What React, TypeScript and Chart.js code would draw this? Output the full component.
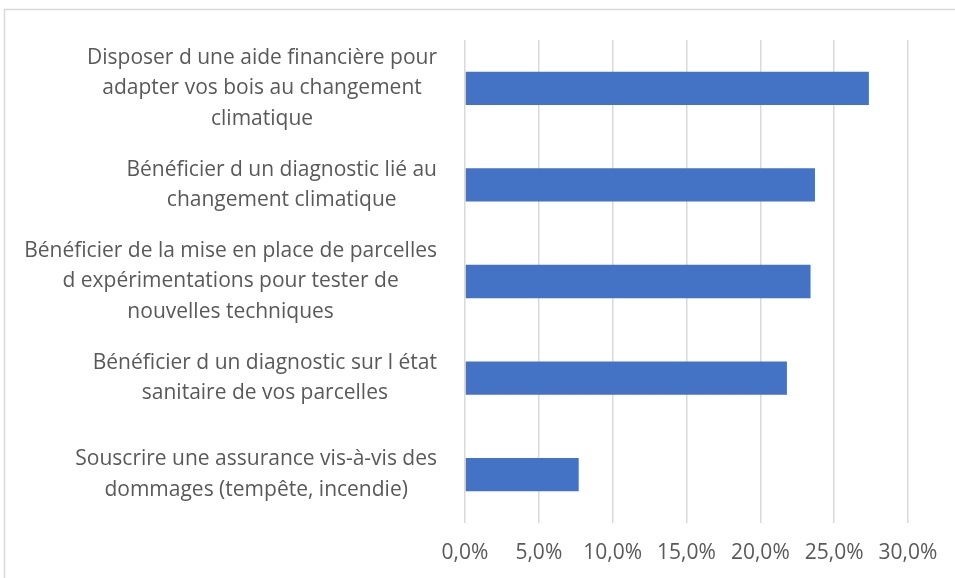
import React, { useEffect, useRef } from 'react';
import { Chart, registerables } from 'chart.js';

Chart.register(...registerables);

const categories: string[][] = [
  ['Disposer d une aide financière pour', 'adapter vos bois au changement', 'climatique'],
  ['Bénéficier d un diagnostic lié au', 'changement climatique'],
  ['Bénéficier de la mise en place de parcelles', 'd expérimentations pour tester de', 'nouvelles techniques'],
  ['Bénéficier d un diagnostic sur l état', 'sanitaire de vos parcelles'],
  ['Souscrire une assurance vis-à-vis des', 'dommages (tempête, incendie)'],
];
const values: number[] = [27.35, 23.7, 23.4, 21.8, 7.7];
const xMin = 0;
const xMax = 30;
const xStep = 5;

const FONT_FAMILY = '"Open Sans", sans-serif';
const FONT_SIZE = 21;
const TICK_FONT_SIZE = 21;
const TEXT_COLOR = '#595959';
const GRID_COLOR = '#d9d9d9';
const BAR_COLOR = '#4472C4';

const frameAndLabels = {
  id: 'frameAndLabels',
  beforeDraw(chart: any) {
    const ctx = chart.ctx;
    ctx.save();
    ctx.fillStyle = '#ffffff';
    ctx.fillRect(0, 0, chart.width, chart.height);
    ctx.strokeStyle = GRID_COLOR;
    ctx.lineWidth = 1.5;
    ctx.beginPath();
    ctx.moveTo(4.5, chart.height + 2);
    ctx.lineTo(4.5, 9.5);
    ctx.lineTo(chart.width + 2, 9.5);
    ctx.stroke();
    ctx.restore();
  },
  afterDraw(chart: any) {
    const ctx = chart.ctx;
    const yScale = chart.scales.y;
    const rightEdge = chart.chartArea.left - 28;
    const lineHeight = 30.5;
    ctx.save();
    ctx.font = `${FONT_SIZE}px ${FONT_FAMILY}`;
    ctx.fillStyle = TEXT_COLOR;
    ctx.textAlign = 'center';
    ctx.textBaseline = 'middle';
    categories.forEach((lines, i) => {
      const yc = yScale.getPixelForValue(i);
      const maxW = Math.max(...lines.map((l) => ctx.measureText(l).width));
      const cx = rightEdge - maxW / 2;
      lines.forEach((line, j) => {
        const y = yc + (j - (lines.length - 1) / 2) * lineHeight;
        ctx.fillText(line, cx, y);
      });
    });
    ctx.restore();
  },
};

export default function App() {
  const canvasRef = useRef<HTMLCanvasElement | null>(null);

  useEffect(() => {
    if (!canvasRef.current) return;
    const chart = new Chart(canvasRef.current, {
      type: 'bar',
      data: {
        labels: categories.map((c) => c.join(' ')),
        datasets: [
          {
            data: values,
            backgroundColor: BAR_COLOR,
            borderWidth: 0,
            categoryPercentage: 1,
            barPercentage: 0.345,
          },
        ],
      },
      options: {
        indexAxis: 'y',
        animation: false,
        responsive: true,
        maintainAspectRatio: false,
        layout: { padding: { top: 40, right: 47, bottom: 0, left: 0 } },
        plugins: {
          legend: { display: false },
          tooltip: { enabled: false },
          title: { display: false },
        },
        scales: {
          x: {
            min: xMin,
            max: xMax,
            grid: { color: GRID_COLOR, lineWidth: 1.5, drawTicks: false },
            border: { display: false },
            ticks: {
              stepSize: xStep,
              padding: 17,
              color: TEXT_COLOR,
              font: { family: FONT_FAMILY, size: TICK_FONT_SIZE },
              callback: (v: any) => Number(v).toFixed(1).replace('.', ',') + '%',
            },
            afterFit: (scale: any) => {
              scale.height = 55;
            },
          },
          y: {
            grid: { display: false },
            border: { display: false },
            ticks: { display: false },
            afterFit: (scale: any) => {
              scale.width = 465;
            },
          },
        },
      },
      plugins: [frameAndLabels],
    });
    return () => chart.destroy();
  }, []);

  return (
    <div style={{ position: 'absolute', left: 0, top: 0, width: 955, height: 578 }}>
      <canvas ref={canvasRef} />
    </div>
  );
}
